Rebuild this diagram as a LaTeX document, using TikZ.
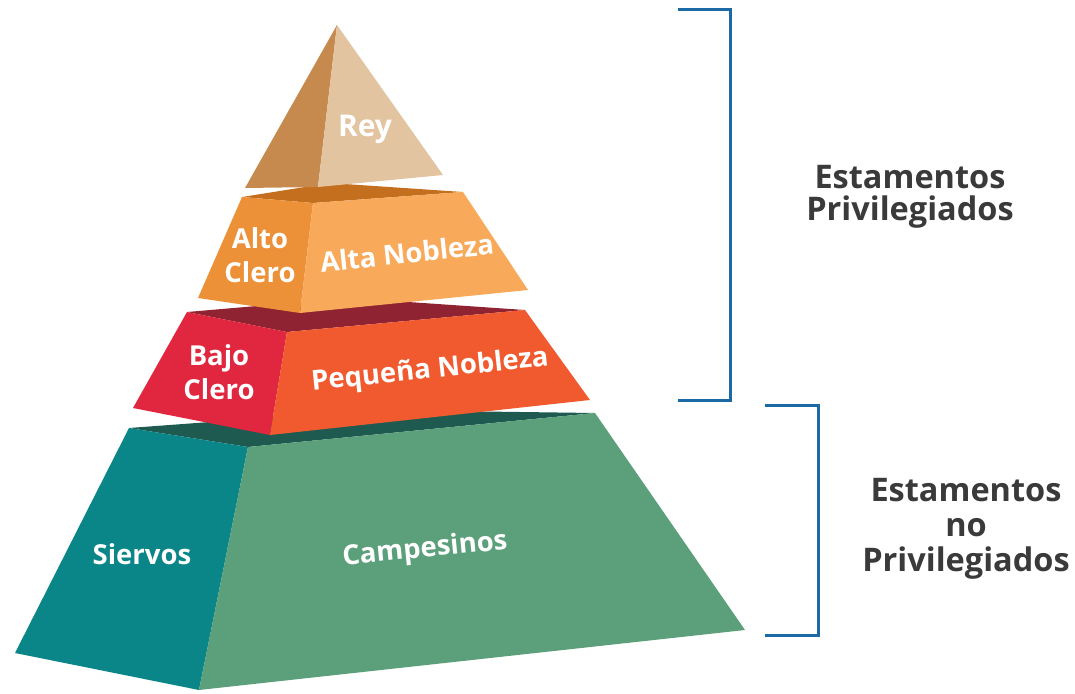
\documentclass[tikz,border=0pt]{standalone}
\usepackage{fontspec}
\setmainfont{Open Sans}
\definecolor{reyleft}{HTML}{C68A4E}
\definecolor{reyright}{HTML}{E3C4A1}
\definecolor{altotop}{HTML}{C46F1E}
\definecolor{altoleft}{HTML}{EC9138}
\definecolor{altoright}{HTML}{F8A95A}
\definecolor{bajotop}{HTML}{8F2332}
\definecolor{bajoleft}{HTML}{E1273F}
\definecolor{bajoright}{HTML}{F15A2F}
\definecolor{campotop}{HTML}{1F5A50}
\definecolor{campoleft}{HTML}{0A8688}
\definecolor{camporight}{HTML}{5BA07A}
\definecolor{brkblue}{HTML}{1B6AA5}
\definecolor{txtgray}{HTML}{3A3A3A}
\begin{document}
\begin{tikzpicture}[x=1pt,y=-1pt,line join=round,
    lbl/.style={text=white,font=\bfseries\fontsize{27.5}{34}\selectfont,align=center,inner sep=0pt},
    est/.style={text=txtgray,font=\bfseries\fontsize{32.5}{31.5}\selectfont,align=center,inner sep=0pt},
    brk/.style={draw=brkblue,line width=3pt,line join=miter}]
    \useasboundingbox (0,0) rectangle (1075,693);
    \path
    % Campesinos
    (129,428) coordinate (Ca) (372,410) coordinate (Cb) (595,413) coordinate (Cc) (248,447) coordinate (Cd)
    (15,653) coordinate (Ce) (199,690) coordinate (Cf) (745,630) coordinate (Cg)
    % Bajo clero / Pequena nobleza
    (187,312) coordinate (Ba) (350,298) coordinate (Bb) (525,310) coordinate (Bc) (287,332) coordinate (Bd)
    (133,408) coordinate (Be) (270,435) coordinate (Bf) (590,400) coordinate (Bg)
    % Alto clero / Alta nobleza
    (242,197) coordinate (Aa) (330,183) coordinate (Ab) (463,192) coordinate (Ac) (313,203) coordinate (Ad)
    (198,298) coordinate (Ae) (300,313) coordinate (Af) (528,290) coordinate (Ag)
    % Rey
    (337,25) coordinate (R0) (245,188) coordinate (Ra) (318,187) coordinate (Rb) (443,175) coordinate (Rc)
    ;
    \fill[campotop] (Ca)--(Cb)--(Cc)--(Cd)--cycle;
    \fill[campoleft] (Ca)--(Cd)--(Cf)--(Ce)--cycle;
    \fill[camporight] (Cd)--(Cc)--(Cg)--(Cf)--cycle;
    \fill[bajotop] (Ba)--(Bb)--(Bc)--(Bd)--cycle;
    \fill[bajoleft] (Ba)--(Bd)--(Bf)--(Be)--cycle;
    \fill[bajoright] (Bd)--(Bc)--(Bg)--(Bf)--cycle;
    \fill[altotop] (Aa)--(Ab)--(Ac)--(Ad)--cycle;
    \fill[altoleft] (Aa)--(Ad)--(Af)--(Ae)--cycle;
    \fill[altoright] (Ad)--(Ac)--(Ag)--(Af)--cycle;
    \fill[reyleft] (R0)--(Rb)--(Ra)--cycle;
    \fill[reyright] (R0)--(Rc)--(Rb)--cycle;
    \node[lbl,font=\bfseries\fontsize{30}{34}\selectfont] (rey) at (365,129) {Rey};
    \foreach \n/\p/\r/\t in {altoclero/{260,255}/0/{Alto\\Clero},altanobleza/{407,253}/6/Alta Nobleza,
        bajoclero/{219,372}/0/{Bajo\\Clero},pequena/{430,371}/6/Pequeña Nobleza,
        siervos/{142,554}/0/Siervos,campesinos/{425,550}/5.5/Campesinos}
        \node[lbl,rotate=\r] (\n) at (\p) {\t};
    \node[est] (priv) at (910,197) {Estamentos\\Privilegiados};
    \node[est,font=\bfseries\fontsize{32.5}{35}\selectfont] (nopriv) at (966,529) {Estamentos\\no\\Privilegiados};
    \path (678,10) coordinate (P1) (730,10) coordinate (P2) (730,400) coordinate (P3) (678,400) coordinate (P4)
    (765,405) coordinate (N1) (818,405) coordinate (N2) (818,635) coordinate (N3) (765,635) coordinate (N4);
    \draw[brk] (P1)--(P2)--(P3)--(P4);
    \draw[brk] (N1)--(N2)--(N3)--(N4);
\end{tikzpicture}
\end{document}
